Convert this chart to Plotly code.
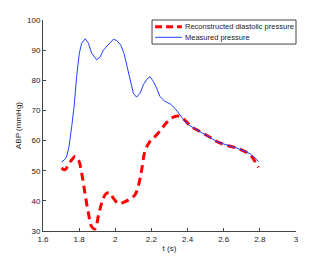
import plotly.graph_objects as go

t_meas = [1.703, 1.718, 1.73, 1.744, 1.759, 1.772, 1.786, 1.801, 1.814, 1.834, 1.851, 1.869, 1.897, 1.915,
          1.934, 1.962, 1.989, 2.008, 2.03, 2.048, 2.063, 2.081, 2.1, 2.118, 2.137, 2.155, 2.174, 2.192,
          2.211, 2.229, 2.247, 2.275, 2.303, 2.33, 2.358, 2.386, 2.414, 2.45, 2.487, 2.524, 2.561, 2.598,
          2.635, 2.672, 2.709, 2.746, 2.782, 2.792]
p_meas = [52.9, 53.6, 54.5, 58, 64.7, 71.3, 81.2, 89, 92.3, 93.8, 92.3, 89, 86.8, 87.6,
          90, 91.7, 93.6, 93.2, 91.7, 89, 85, 80.1, 75.7, 74.4, 75.7, 78.5, 80.3, 81.2,
          79.6, 77.4, 74.6, 73, 72.2, 70.7, 68.5, 66.3, 64.9, 63.6, 62.5, 61.1, 59.7, 58.9,
          58.3, 57.5, 56.7, 55.6, 53.8, 53]

t_rec = [1.703, 1.722, 1.74, 1.759, 1.777, 1.796, 1.814, 1.832, 1.851, 1.869, 1.888, 1.906, 1.925, 1.949,
         1.971, 1.989, 2.017, 2.045, 2.081, 2.109, 2.127, 2.146, 2.164, 2.192, 2.229, 2.266, 2.303, 2.33,
         2.358, 2.386, 2.414, 2.45, 2.487, 2.524, 2.561, 2.598, 2.635, 2.672, 2.709, 2.746, 2.773, 2.792]
p_rec = [50.9, 50.3, 52, 53.6, 54.7, 53.6, 49.2, 42.6, 36, 31.5, 30.7, 34.9, 39.3, 42.4,
         42.6, 40.9, 39.1, 39.5, 40.6, 42, 44.8, 50.3, 56.4, 59.7, 61.9, 64.7, 67.1, 68,
         68, 66.7, 64.9, 63.6, 62.4, 61.1, 59.7, 58.8, 58.1, 57.5, 56.6, 55.3, 53.1, 51.1]

x_ticks = [1.6, 1.8, 2, 2.2, 2.4, 2.6, 2.8, 3]
x_labels = ["1.6", "1.8", "2", "2.2", "2.4", "2.6", "2.8", "3"]
y_ticks = [30, 40, 50, 60, 70, 80, 90, 100]

series_names = ["Reconstructed diastolic pressure", "Measured pressure"]
RED = "#ff0000"
BLUE = "#2040ff"
FONT = "Liberation Sans, Arial, sans-serif"

fig = go.Figure()
fig.add_trace(go.Scatter(x=t_rec, y=p_rec, mode="lines", name=series_names[0],
                         line=dict(color=RED, width=3, dash="8px,5px", shape="spline")))
fig.add_trace(go.Scatter(x=t_meas, y=p_meas, mode="lines", name=series_names[1],
                         line=dict(color=BLUE, width=1)))

axis_common = dict(showgrid=False, zeroline=False, showline=True, linecolor="#444", linewidth=1,
                   ticks="inside", ticklen=3, tickcolor="#444", mirror=False, automargin=False,
                   tickfont=dict(family=FONT, size=8, color="#222"))

# compact MATLAB-style legend drawn with shapes + text (paper coordinates)
lg_x0, lg_x1, lg_y0, lg_y1 = 0.431, 1.0, 0.886, 1.0
sample_x0, sample_x1, text_x = 0.443, 0.549, 0.555
row_y = [0.968, 0.918]
shapes = [dict(type="rect", xref="paper", yref="paper", x0=lg_x0, x1=lg_x1, y0=lg_y0, y1=lg_y1,
               line=dict(color="#444", width=1), fillcolor="white", layer="above")]
shapes.append(dict(type="line", xref="paper", yref="paper", x0=sample_x0, x1=sample_x1,
                   y0=row_y[0], y1=row_y[0], line=dict(color=RED, width=3, dash="7px,4px"), layer="above"))
shapes.append(dict(type="line", xref="paper", yref="paper", x0=sample_x0, x1=sample_x1,
                   y0=row_y[1], y1=row_y[1], line=dict(color=BLUE, width=1), layer="above"))
annotations = [dict(xref="paper", yref="paper", x=text_x, y=ry, text=nm, showarrow=False,
                    xanchor="left", yanchor="middle", font=dict(family=FONT, size=7.5, color="#222"))
               for nm, ry in zip(series_names, row_y)]

fig.update_layout(
    width=327, height=261,
    margin=dict(l=43, r=31, t=20, b=30, autoexpand=False),
    paper_bgcolor="white", plot_bgcolor="white",
    font=dict(family=FONT, size=8, color="#222"),
    showlegend=False,
    shapes=shapes, annotations=annotations,
    xaxis=dict(range=[1.6, 3], tickvals=x_ticks, ticktext=x_labels,
               title=dict(text="t (s)", font=dict(size=8, color="#222"), standoff=2), **axis_common),
    yaxis=dict(range=[30, 100], tickvals=y_ticks,
               title=dict(text="ABP (mmHg)", font=dict(size=8, color="#222"), standoff=4), **axis_common),
)

fig.write_html("out.html", config={"displayModeBar": False},
               post_script="document.body.style.margin='0';document.body.style.overflow='hidden';")
